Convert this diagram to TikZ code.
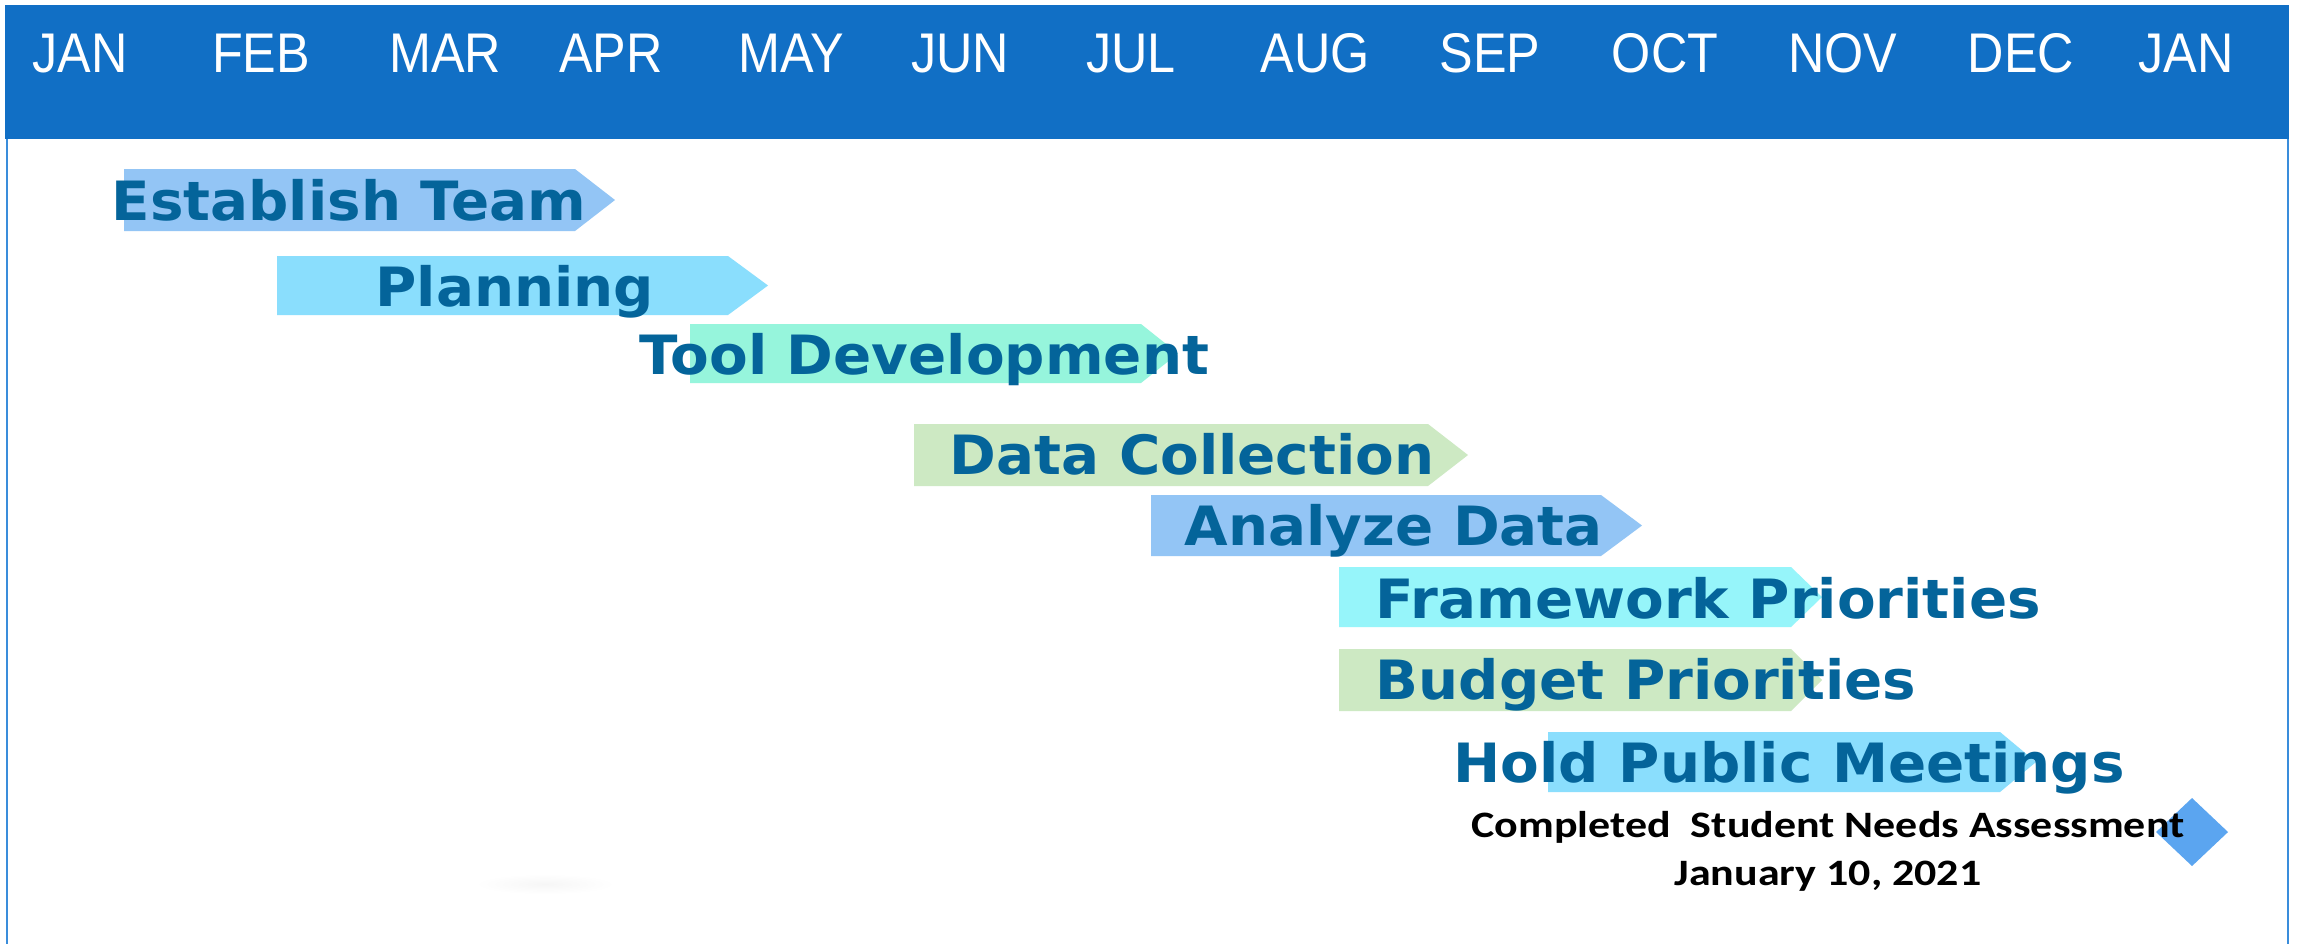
\documentclass[tikz,border=0pt]{standalone}
\usepackage{fontspec}
\setmainfont{Liberation Sans}
\newfontfamily\monthfont[FakeStretch=0.9]{Liberation Sans}
\newfontfamily\barfont[FakeStretch=1.04]{DejaVu Sans}
\newfontfamily\notefont[FakeStretch=1.18]{Carlito}
\definecolor{headblue}{HTML}{116FC5}
\definecolor{edgeblue}{HTML}{3A8DDB}
\definecolor{txtblue}{HTML}{04649A}
\definecolor{cBlue}{HTML}{93C5F5}
\definecolor{cSky}{HTML}{8ADEFD}
\definecolor{cAqua}{HTML}{96F5DC}
\definecolor{cGreen}{HTML}{CDE9C3}
\definecolor{cCyan}{HTML}{96F5FA}
\definecolor{cDiam}{HTML}{5BA5F0}
\newcommand\gbar[6]{\fill[#1] (#2,#3) -- (#5,#3) -- (#6,{(#3+#4)/2}) -- (#5,#4) -- (#2,#4) -- cycle;}
\tikzset{
  month/.style={anchor=base, text=white, inner sep=0pt, font=\monthfont\fontsize{15.9}{18}\selectfont},
  task/.style={anchor=base west, text=txtblue, inner sep=0pt, font=\barfont\bfseries\fontsize{15.4}{18}\selectfont},
  note/.style={anchor=base, text=black, inner sep=0pt, font=\notefont\bfseries\fontsize{10.6}{13}\selectfont}
}
\begin{document}
\begin{tikzpicture}[x=0.01cm, y=-0.01cm]
\useasboundingbox (0,0) rectangle (2298,944);
\fill[white] (0,0) rectangle (2298,944);
% header band and frame
\fill[headblue] (5,5) rectangle (2289,139);
\draw[edgeblue, line width=0.85pt] (7,139) -- (7,944);
\draw[edgeblue, line width=0.6pt] (2288,139) -- (2288,944);
% months
\node[month] (m1) at (80,72) {JAN};
\node[month] (m2) at (261,72) {FEB};
\node[month] (m3) at (445,72) {MAR};
\node[month] (m4) at (611,72) {APR};
\node[month] (m5) at (791,72) {MAY};
\node[month] (m6) at (960,72) {JUN};
\node[month] (m7) at (1131,72) {JUL};
\node[month] (m8) at (1315,72) {AUG};
\node[month] (m9) at (1490,72) {SEP};
\node[month] (m10) at (1665,72) {OCT};
\node[month] (m11) at (1843,72) {NOV};
\node[month] (m12) at (2021,72) {DEC};
\node[month] (m13) at (2186,72) {JAN};
% bars
\gbar{cBlue}{124}{169}{231}{575}{615}
\gbar{cSky}{277}{256}{315}{728}{768}
\gbar{cAqua}{690}{324}{383}{1141}{1178}
\gbar{cGreen}{914}{424}{486}{1428}{1468}
\gbar{cBlue}{1151}{495}{556}{1601}{1642}
\gbar{cCyan}{1339}{567}{627}{1791}{1822}
\gbar{cGreen}{1339}{649}{711}{1791}{1822}
\gbar{cSky}{1548}{732}{792}{2000}{2036}
% milestone
\fill[cDiam] (2156,832) -- (2192,798) -- (2228,832) -- (2192,866) -- cycle;
% faint smudge
\shade[inner color=gray!7, outer color=white] (545,884) ellipse (70 and 10);
% task labels
\node[task] (t1) at (111,220) {Establish Team};
\node[task] (t2) at (375,306) {Planning};
\node[task] (t3) at (639,374) {Tool Development};
\node[task] (t4) at (949,474) {Data Collection};
\node[task] (t5) at (1184,545) {Analyze Data};
\node[task] (t6) at (1375,618) {Framework Priorities};
\node[task] (t7) at (1375,699) {Budget Priorities};
\node[task] (t8) at (1453,782) {Hold Public Meetings};
% milestone note
\node[note] (n1) at (1828,837) {Completed\ \ Student Needs Assessment};
\node[note] (n2) at (1828,885) {January 10, 2021};
\end{tikzpicture}
\end{document}
